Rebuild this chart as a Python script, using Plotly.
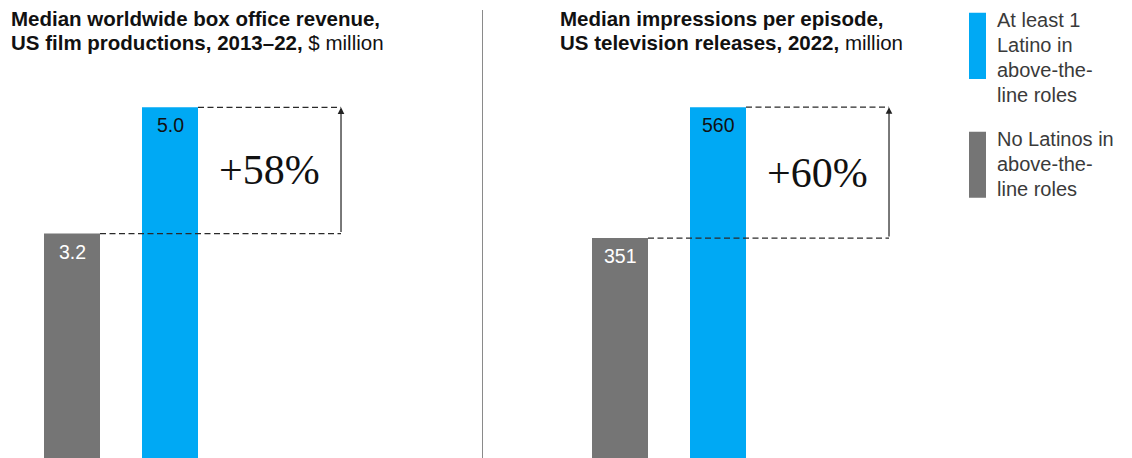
import plotly.graph_objects as go

# --- data -------------------------------------------------------------
groups = ["No Latinos in above-the-line roles", "At least 1 Latino in above-the-line roles"]
film_revenue = [3.2, 5.0]          # $ million, median worldwide box office
tv_impressions = [351, 560]        # million, median impressions per episode
film_labels = ["3.2", "5.0"]
tv_labels = ["351", "560"]
change_labels = ["+58%", "+60%"]

film_title = ["<b>Median worldwide box office revenue,</b>",
              "<b>US film productions, 2013–22,</b> $ million"]
tv_title = ["<b>Median impressions per episode,</b>",
            "<b>US television releases, 2022,</b> million"]
legend_texts = [["At least 1", "Latino in", "above-the-", "line roles"],
                ["No Latinos in", "above-the-", "line roles"]]

# --- styling ------------------------------------------------------------
W, H = 1132, 458
BLUE = "#00A9F4"
GREY = "#757575"
colors = [GREY, BLUE]
label_colors = ["#ffffff", "#111111"]
SANS = "Liberation Sans, Arial, sans-serif"
SERIF = "Liberation Serif, Times New Roman, serif"

split_px = 482.5          # divider between the two panels
unit_px = 98              # pixel distance between bar centres
bar_w = 56 / unit_px      # bar width in category units
arrow_x = 2.745           # x position of the change arrow (category units)

def px_x(p):
    return p / W

def px_y(p):
    return 1 - p / H

fig = go.Figure()

panels = [
    dict(vals=film_revenue, labels=film_labels, xa="x", ya="y", ymax=6.53),
    dict(vals=tv_impressions, labels=tv_labels, xa="x2", ya="y2", ymax=731),
]

annotations = []
shapes = []

for k, p in enumerate(panels):
    fig.add_trace(go.Bar(
        x=[0, 1], y=p["vals"], width=bar_w,
        marker=dict(color=colors, line=dict(width=0)),
        xaxis=p["xa"], yaxis=p["ya"], showlegend=False, hoverinfo="skip",
    ))
    lo, hi = p["vals"]
    # dashed guides from the top of each bar out to the arrow
    for start, level in [(0 + bar_w / 2, lo), (1 + bar_w / 2, hi)]:
        shapes.append(dict(type="line", xref=p["xa"], yref=p["ya"],
                           x0=start, x1=arrow_x, y0=level, y1=level,
                           line=dict(color="#2a2a2a", width=1.3, dash="6px,3.5px"),
                           layer="above"))
    # arrow from the lower to the higher value
    annotations.append(dict(xref=p["xa"], yref=p["ya"], x=arrow_x, y=hi,
                            axref=p["xa"], ayref=p["ya"], ax=arrow_x, ay=lo,
                            text="", showarrow=True, arrowhead=2, arrowsize=1.1,
                            arrowwidth=1.2, arrowcolor="#222222", standoff=0,
                            startstandoff=0))
    # percentage change
    annotations.append(dict(xref=p["xa"], yref=p["ya"],
                            x=(1 + bar_w / 2 + arrow_x) / 2, y=(lo + hi) / 2,
                            text=change_labels[k], showarrow=False,
                            font=dict(family=SERIF, size=42, color="#111111"),
                            xanchor="center", yanchor="middle"))
    # value labels inside the bars
    for i, (v, t) in enumerate(zip(p["vals"], p["labels"])):
        annotations.append(dict(xref=p["xa"], yref=p["ya"], x=i, y=v, text=t,
                                showarrow=False, yanchor="top", yshift=-5,
                                font=dict(family=SANS, size=19.5, color=label_colors[i])))

# panel titles, one annotation per line for tighter leading
for lines, x in [(film_title, 9), (tv_title, 558)]:
    for j, line in enumerate(lines):
        annotations.append(dict(xref="paper", yref="paper", x=px_x(x), y=px_y(5 + 24.5 * j),
                                xanchor="left", yanchor="top", align="left",
                                text=line, showarrow=False,
                                font=dict(family=SANS, size=20.5, color="#111111")))

# divider
shapes.append(dict(type="line", xref="paper", yref="paper",
                   x0=px_x(split_px), x1=px_x(split_px), y0=0, y1=px_y(10),
                   line=dict(color="#8a8a8a", width=1)))

# legend
legend_items = [(BLUE, 12.7, 79, legend_texts[0]), (GREY, 131.7, 197.7, legend_texts[1])]
for col, top, bot, lines in legend_items:
    shapes.append(dict(type="rect", xref="paper", yref="paper",
                       x0=px_x(969), x1=px_x(986), y0=px_y(bot), y1=px_y(top),
                       fillcolor=col, line=dict(width=0)))
    for j, line in enumerate(lines):
        annotations.append(dict(xref="paper", yref="paper", x=px_x(995),
                                y=px_y(top - 6 + 25 * j),
                                xanchor="left", yanchor="top", align="left",
                                text=line, showarrow=False,
                                font=dict(family=SANS, size=20, color="#3a3a3a")))

axis_common = dict(showgrid=False, zeroline=False, showticklabels=False,
                   showline=False, ticks="", fixedrange=True)
fig.update_layout(
    width=W, height=H,
    margin=dict(l=0, r=0, t=0, b=0),
    paper_bgcolor="white", plot_bgcolor="rgba(0,0,0,0)",
    xaxis=dict(domain=[0, split_px / W],
               range=[-72 / unit_px, (split_px - 72) / unit_px], **axis_common),
    xaxis2=dict(domain=[split_px / W, 1],
                range=[-(620 - split_px) / unit_px, (W - 620) / unit_px], **axis_common),
    yaxis=dict(domain=[0, 1], range=[0, panels[0]["ymax"]], **axis_common),
    yaxis2=dict(domain=[0, 1], range=[0, panels[1]["ymax"]], anchor="x2", **axis_common),
    annotations=annotations,
    shapes=shapes,
    showlegend=False,
)

fig.write_html("out.html", config={"displayModeBar": False})
